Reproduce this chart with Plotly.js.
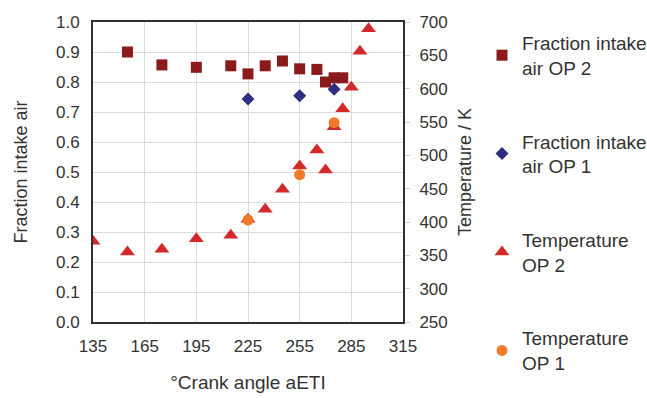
<!DOCTYPE html>
<html><head><meta charset="utf-8">
<script src="https://cdn.plot.ly/plotly-3.0.1.min.js"></script>
<style>html,body{margin:0;padding:0;background:#fff}#chart{width:647px;height:398px}</style>
</head><body><div id="chart"></div>
<script>
const angleFracOP2 = [155,175,195,215,225,235,245,255,265,270,275,280];
const fracOP2 = [0.90,0.857,0.849,0.854,0.827,0.854,0.87,0.844,0.842,0.80,0.814,0.814];
const angleFracOP1 = [225,255,275];
const fracOP1 = [0.743,0.754,0.776];
const angleTempOP2 = [135,155,175,195,215,225,235,245,255,265,270,275,280,285,290,295];
const tempOP2 = [371,355,359,375,380,404,419,449,484,508,478,543,570,602,656,690];
const angleTempOP1 = [225,255,275];
const tempOP1 = [403,471,549];
const names = ['Fraction intake<br>air OP 2','Fraction intake<br>air OP 1','Temperature<br>OP 2','Temperature<br>OP 1'];

const font = 'Liberation Sans, Arial, sans-serif';
const traces = [
  {x: angleFracOP2, y: fracOP2, name: names[0], legendgroup:'a', type:'scatter', mode:'markers',
   marker:{symbol:'square', size:11, color:'#8b1a1a'}},
  {x: angleFracOP1, y: fracOP1, name: names[1], legendgroup:'b', type:'scatter', mode:'markers',
   marker:{symbol:'diamond', size:10, color:'#2e2e80'}},
  {x: angleTempOP2, y: tempOP2, name: names[2], legendgroup:'c', type:'scatter', mode:'markers', yaxis:'y2',
   marker:{symbol:'triangle-up', size:13, color:'#d22a2a'}},
  {x: angleTempOP1, y: tempOP1, name: names[3], legendgroup:'d', type:'scatter', mode:'markers', yaxis:'y2',
   marker:{symbol:'circle', size:11, color:'#f07a2a'}}
];
const layout = {
  width: 647, height: 398,
  margin: {l: 93, r: 244, t: 22, b: 76},
  paper_bgcolor: '#fff', plot_bgcolor: '#fff',
  font: {family: font, size: 17, color: '#333'},
  showlegend: true,
  legend: {xref:'container', yref:'container', x: 482/647, y: 1 - 24/398, xanchor:'left', yanchor:'top',
    font:{size:19, color:'#333'}, tracegroupgap: 46, itemwidth: 30, maxheight: 398, bgcolor:'rgba(0,0,0,0)'},
  xaxis: {range:[135,315], tickvals:[135,165,195,225,255,285,315], showgrid:true, gridcolor:'#dcdcdc', gridwidth:1,
    showline:true, linecolor:'#303030', linewidth:2, mirror:true, zeroline:false, ticks:'', ticklabelstandoff: 8,
    title:{text:'°Crank angle aETI', font:{size:19, color:'#333'}, standoff: 20}},
  yaxis: {range:[0,1], dtick:0.1, tickformat:'.1f', showgrid:true, gridcolor:'#dcdcdc', gridwidth:1,
    showline:true, linecolor:'#303030', linewidth:2, mirror:true, zeroline:false, ticks:'', ticklabelstandoff: 8,
    title:{text:'Fraction intake air', font:{size:18, color:'#333'}, standoff: 24}},
  yaxis2: {range:[250,700], dtick:50, overlaying:'y', side:'right', showgrid:false, zeroline:false,
    showline:true, linecolor:'#303030', linewidth:2, ticks:'outside', ticklen:5, tickcolor:'#d0d0d0',
    ticklabelstandoff: 6,
    title:{text:'Temperature / K', font:{size:18, color:'#333'}, standoff: 12}}
};
Plotly.newPlot('chart', traces, layout, {displayModeBar:false, staticPlot:true});
</script></body></html>
